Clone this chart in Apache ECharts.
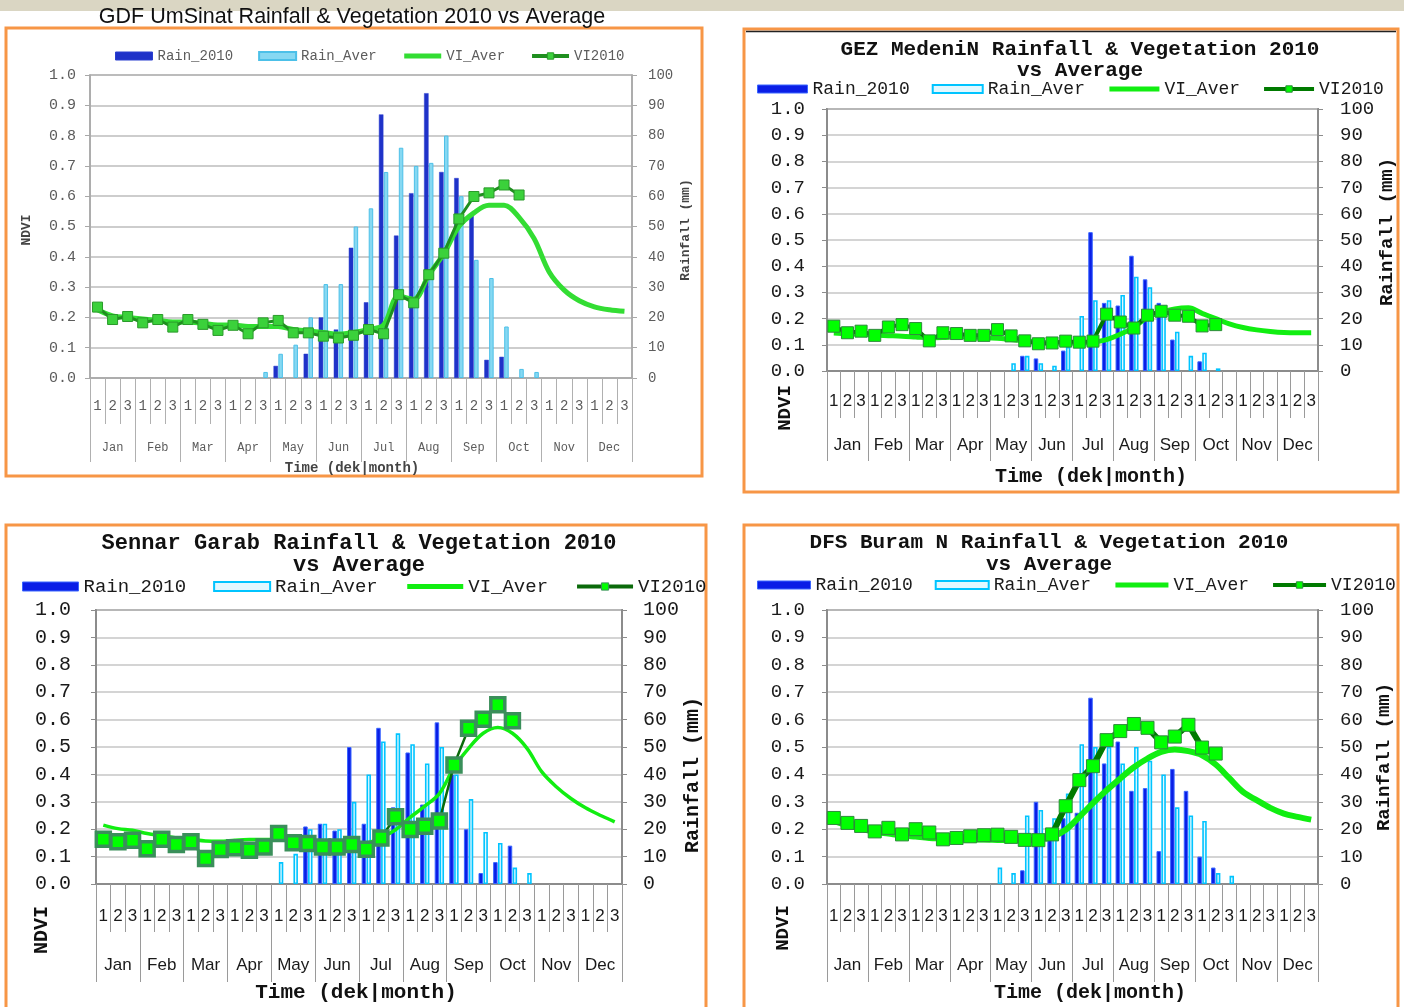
<!DOCTYPE html>
<html lang="en">
<head>
<meta charset="UTF-8">
<title>Rainfall &amp; Vegetation 2010 vs Average</title>
<style>
  html, body { margin: 0; padding: 0; background: #fff; }
  #chart { width: 1404px; height: 1007px; }
</style>
</head>
<body>
<div id="chart"></div>
<script src="https://cdn.jsdelivr.net/npm/echarts@6.0.0/dist/echarts.min.js"></script>
<script>
// time axis: 3 dekads per month
var months = ['Jan', 'Feb', 'Mar', 'Apr', 'May', 'Jun', 'Jul', 'Aug', 'Sep', 'Oct', 'Nov', 'Dec'];
var dekNames = ['1', '2', '3'];
var ndviTicks = [0, 0.1, 0.2, 0.3, 0.4, 0.5, 0.6, 0.7, 0.8, 0.9, 1.0];
var rainTicks = [0, 10, 20, 30, 40, 50, 60, 70, 80, 90, 100];

// GDF UmSinat
var gdfRain2010 = [null, null, null, null, null, null, null, null, null, null, null, null,
  4, null, 8, 20, 16, 43, 25, 87, 47, 61, 94, 68, 66, 54, 6, 7,
  null, null, null, null, null, null, null, null];
var gdfRainAver = [null, null, null, null, null, null, null, null, null, null, null,
  2, 8, 11, 20, 31, 31, 50, 56, 68, 76, 70, 71, 80, 60, 39, 33, 17, 3, 2,
  null, null, null, null, null, null];
var gdfViAver = [0.225, 0.205, 0.2, 0.195, 0.19, 0.185, 0.185, 0.18, 0.175, 0.175, 0.17, 0.17,
  0.17, 0.16, 0.155, 0.15, 0.145, 0.15, 0.16, 0.175, 0.27, 0.26, 0.34, 0.41,
  0.5, 0.545, 0.57, 0.57, 0.53, 0.46, 0.35, 0.29, 0.255, 0.235, 0.225, 0.22];
var gdfVi2010 = [0.234, 0.193, 0.203, 0.182, 0.193, 0.168, 0.193, 0.177, 0.157, 0.174, 0.146, 0.182,
  0.19, 0.149, 0.149, 0.138, 0.132, 0.141, 0.16, 0.146, 0.275, 0.248, 0.341, 0.412,
  0.525, 0.599, 0.611, 0.637, 0.604, null, null, null, null, null, null, null];

// GEZ MedeniN
var gezRain2010 = [null, null, null, null, null, null, null, null, null, null, null, null, null, null,
  5.8, 4.8, null, 7.8, null, 53, 26, 25, 44, 35, 26, 12, null, 3.7,
  null, null, null, null, null, null, null, null];
var gezRainAver = [null, null, null, null, null, null, null, null, null, null, null, null, null,
  3, 5.8, 3, 2, 9.2, 21, 27, 27, 29, 36, 32, 25, 15, 5.8, 7, 1,
  null, null, null, null, null, null, null];
var gezViAver = [0.145, 0.142, 0.14, 0.137, 0.135, 0.133, 0.13, 0.127, 0.128, 0.13, 0.13, 0.128,
  0.125, 0.12, 0.115, 0.11, 0.108, 0.107, 0.108, 0.11, 0.12, 0.14, 0.167, 0.205,
  0.224, 0.237, 0.241, 0.22, 0.2, 0.18, 0.166, 0.157, 0.151, 0.147, 0.146, 0.146];
var gezVi2010 = [0.171, 0.146, 0.152, 0.136, 0.168, 0.177, 0.162, 0.115, 0.146, 0.143, 0.136, 0.136,
  0.158, 0.134, 0.115, 0.104, 0.107, 0.114, 0.11, 0.114, 0.217, 0.187, 0.164, 0.213,
  0.228, 0.213, 0.209, 0.172, 0.177, null, null, null, null, null, null, null];

// Sennar Garab
var sennarRain2010 = [null, null, null, null, null, null, null, null, null, null, null, null, null, null,
  21, 22, 19.5, 50, 22, 57, 28, 48, 29, 59, 40, 20, 4, 8, 14,
  null, null, null, null, null, null, null];
var sennarRainAver = [null, null, null, null, null, null, null, null, null, null, null, null,
  8, 11, 20, 22, 20, 30, 40, 52, 55, 51, 44, 50, 40, 31, 19, 15, 6, 4,
  null, null, null, null, null, null];
var sennarViAver = [0.215, 0.202, 0.196, 0.184, 0.176, 0.168, 0.163, 0.157, 0.156, 0.16, 0.162, 0.162,
  0.162, 0.156, 0.151, 0.148, 0.148, 0.148, 0.15, 0.169, 0.198, 0.243, 0.284, 0.33,
  0.425, 0.495, 0.55, 0.571, 0.55, 0.495, 0.41, 0.355, 0.312, 0.278, 0.251, 0.227];
var sennarVi2010 = [0.163, 0.154, 0.16, 0.129, 0.163, 0.144, 0.154, 0.093, 0.126, 0.132, 0.123, 0.135,
  0.184, 0.151, 0.148, 0.135, 0.135, 0.144, 0.127, 0.168, 0.245, 0.199, 0.211, 0.23,
  0.434, 0.568, 0.601, 0.654, 0.596, null, null, null, null, null, null, null];

// DFS Buram N
var dfsRain2010 = [null, null, null, null, null, null, null, null, null, null, null, null, null, null,
  5, 30, 20, 24, 26, 68, 44, 52, 34, 35, 12, 42, 34, 10, 6,
  null, null, null, null, null, null, null];
var dfsRainAver = [null, null, null, null, null, null, null, null, null, null, null, null,
  6, 4, 25, 27, 24, 33, 51, 50, 50, 44, 50, 45, 40, 28, 25, 23, 4, 3,
  null, null, null, null, null, null];
var dfsViAver = [0.229, 0.214, 0.202, 0.19, 0.184, 0.178, 0.173, 0.168, 0.166, 0.163, 0.162, 0.162,
  0.161, 0.16, 0.16, 0.162, 0.172, 0.198, 0.245, 0.295, 0.342, 0.385, 0.426, 0.458,
  0.482, 0.491, 0.485, 0.47, 0.436, 0.386, 0.336, 0.306, 0.278, 0.257, 0.245, 0.235];
var dfsVi2010 = [0.241, 0.223, 0.212, 0.192, 0.205, 0.181, 0.2, 0.188, 0.163, 0.168, 0.174, 0.178,
  0.18, 0.172, 0.161, 0.16, 0.181, 0.284, 0.379, 0.43, 0.525, 0.558, 0.584, 0.57,
  0.517, 0.538, 0.581, 0.498, 0.476, null, null, null, null, null, null, null];

var panelTitles = [
  ['GDF UmSinat Rainfall & Vegetation 2010 vs Average'],
  ['GEZ MedeniN Rainfall & Vegetation 2010', 'vs Average'],
  ['Sennar Garab Rainfall & Vegetation 2010', 'vs Average'],
  ['DFS Buram N Rainfall & Vegetation 2010', 'vs Average']
];
var seriesNames = ['Rain_2010', 'Rain_Aver', 'VI_Aver', 'VI2010'];
var panelSeries = [
  [gdfRain2010, gdfRainAver, gdfViAver, gdfVi2010],
  [gezRain2010, gezRainAver, gezViAver, gezVi2010],
  [sennarRain2010, sennarRainAver, sennarViAver, sennarVi2010],
  [dfsRain2010, dfsRainAver, dfsViAver, dfsVi2010]
];

// category list for the dekad axis (unique keys, shown as 1/2/3)
var dekCats = [];
months.forEach(function (m) {
  dekNames.forEach(function (d) { dekCats.push(m + ' ' + d); });
});

// layout of each panel on the page
var layouts = [
  { grid: [90, 75, 542, 303], box: [6, 28, 696, 448],
    legend: { left: 115, top: 49, w: 37, h: 8, gap: 25, size: 14 },
    title: { x: 352, y: [17], size: 21.5, font: 'Liberation Sans', weight: 'normal', color: '#111' },
    yL: { size: 15, margin: 14 }, yR: { size: 14, margin: 16 },
    dek: { size: 14, margin: 21, tick: 46 }, mon: { size: 12, margin: 64, tick: 84 },
    ndvi: [27, 230], rainName: [686, 230], time: [352, 468], nameSize: 13 },
  { grid: [827, 109, 491, 262], box: [744, 29, 654, 463],
    legend: { left: 757, top: 80, w: 50, h: 8, gap: 22, size: 18 },
    title: { x: 1080, y: [50, 71], size: 21 },
    yL: { size: 19, margin: 22 }, yR: { size: 19, margin: 22 },
    dek: { size: 17, margin: 22, tick: 47 }, mon: { size: 17, margin: 66, tick: 90 },
    ndvi: [785, 408], rainName: [1387, 232], time: [1091, 477], nameSize: 19 },
  { grid: [96, 610, 526, 274], box: [6, 525, 700, 500],
    legend: { left: 22, top: 577, w: 56, h: 9, gap: 27, size: 19 },
    title: { x: 359, y: [543, 565], size: 22 },
    yL: { size: 20, margin: 25 }, yR: { size: 20, margin: 21 },
    dek: { size: 17, margin: 24, tick: 48 }, mon: { size: 17, margin: 73, tick: 98 },
    ndvi: [42, 930], rainName: [693, 775], time: [356, 993], nameSize: 20 },
  { grid: [827, 610, 491, 274], box: [744, 525, 654, 500],
    legend: { left: 757, top: 576, w: 53, h: 8, gap: 22, size: 18 },
    title: { x: 1049, y: [543, 565], size: 21 },
    yL: { size: 19, margin: 22 }, yR: { size: 19, margin: 22 },
    dek: { size: 17, margin: 24, tick: 48 }, mon: { size: 17, margin: 73, tick: 98 },
    ndvi: [783, 928], rainName: [1384, 757], time: [1090, 993], nameSize: 19 }
];

// the first panel is a fuzzy pasted picture, the other three share one look
var oldLook = {
  mono: 'Liberation Mono', sans: 'Liberation Mono', text: '#5c5c5c', frame: '#a8a8a8', frameW: 1.5,
  grid: '#bdbdbd', tick: '#b0b0b0',
  dark: '#1f32c8', darkEdge: '#2a3fd0', darkEdgeW: 0.5,
  light: '#86d8f2', lightEdge: '#4cc0e8', lightEdgeW: 1,
  viAver: '#33dd33', viAverW: 5, vi: '#1f8f1f', viW: 3,
  mark: '#3bd13b', markEdge: '#2a9a2a', markEdgeW: 1, markSize: 10, barW: 4.5
};
var newLook = {
  mono: 'Liberation Mono', sans: 'Liberation Sans', text: '#1a1a1a', frame: '#8c8c8c', frameW: 2,
  grid: '#c6c6c6', tick: '#9a9a9a',
  dark: '#0a1ee6', darkEdge: '#3a66ff', darkEdgeW: 1,
  light: '#e2f8ff', lightEdge: '#00c4ff', lightEdgeW: 1.6,
  viAver: '#11ee11', viAverW: 5, vi: '#007a00', viW: 4,
  mark: '#00ff00', markEdge: '#2d8a3a', markEdgeW: 1, markSize: 12, barW: 4.5
};
var looks = [
  oldLook,
  newLook,
  Object.assign({}, newLook, { viAverW: 3.5, viW: 2.5, vi: '#0a6a0a', markEdge: '#3a8f5a', markEdgeW: 3.5, markSize: 14 }),
  Object.assign({}, newLook, { viAverW: 6, viW: 6, markSize: 13 })
];

var myChart = echarts.init(document.getElementById('chart'), null, { renderer: 'canvas' });

var option = {
  animation: false,
  backgroundColor: '#ffffff',
  grid: [], xAxis: [], yAxis: [], series: [], legend: [],
  graphic: [
    { type: 'rect', shape: { x: 0, y: 0, width: 1404, height: 11 }, style: { fill: '#dad6c3' } }
  ]
};

function text(x, y, str, size, weight, family, color, rot) {
  return {
    type: 'text', x: x, y: y, rotation: rot || 0, z: 10,
    style: { text: str, fontSize: size, fontWeight: weight, fontFamily: family,
      fill: color, align: 'center', verticalAlign: 'middle' }
  };
}

layouts.forEach(function (L, p) {
  var S = looks[p];
  var data = panelSeries[p];

  option.grid.push({ left: L.grid[0], top: L.grid[1], width: L.grid[2], height: L.grid[3],
    show: true, borderColor: S.frame, borderWidth: S.frameW, backgroundColor: 'transparent' });

  // dekad axis 1 2 3 ...
  option.xAxis.push({
    type: 'category', gridIndex: p, position: 'bottom', data: dekCats, boundaryGap: true,
    axisLine: { show: true, lineStyle: { color: S.frame, width: S.frameW } },
    axisTick: { show: true, interval: 0, length: L.dek.tick, lineStyle: { color: S.tick, width: 1 } },
    axisLabel: { interval: 0, margin: L.dek.margin, fontFamily: S.sans, fontSize: L.dek.size, color: S.text,
      formatter: function (v) { return v.split(' ')[1]; } },
    splitLine: { show: false }
  });
  // month axis under it
  option.xAxis.push({
    type: 'category', gridIndex: p, position: 'bottom', data: months, boundaryGap: true,
    axisLine: { show: false },
    axisTick: { show: true, interval: 0, length: L.mon.tick, lineStyle: { color: S.tick, width: 1 } },
    axisLabel: { interval: 0, margin: L.mon.margin, fontFamily: S.sans, fontSize: L.mon.size, color: S.text },
    splitLine: { show: false }
  });

  option.yAxis.push({
    type: 'value', gridIndex: p, position: 'left',
    min: ndviTicks[0], max: ndviTicks[ndviTicks.length - 1], interval: ndviTicks[1] - ndviTicks[0],
    axisLine: { show: true, lineStyle: { color: S.frame, width: S.frameW } },
    axisTick: { show: true, length: 5, lineStyle: { color: S.frame } },
    axisLabel: { margin: L.yL.margin, fontFamily: S.mono, fontSize: L.yL.size, color: S.text,
      formatter: function (v) { return v.toFixed(1); } },
    splitLine: { show: true, lineStyle: { color: S.grid, width: 1.5 } }
  });
  option.yAxis.push({
    type: 'value', gridIndex: p, position: 'right',
    min: rainTicks[0], max: rainTicks[rainTicks.length - 1], interval: rainTicks[1] - rainTicks[0],
    axisLine: { show: true, lineStyle: { color: S.frame, width: S.frameW } },
    axisTick: { show: true, length: 5, lineStyle: { color: S.frame } },
    axisLabel: { margin: L.yR.margin, fontFamily: S.mono, fontSize: L.yR.size, color: S.text },
    splitLine: { show: false }
  });

  option.series.push({
    name: seriesNames[0], type: 'bar', xAxisIndex: 2 * p, yAxisIndex: 2 * p + 1,
    data: data[0], barWidth: S.barW, barGap: '8%', z: 2,
    itemStyle: { color: S.dark, borderColor: S.darkEdge, borderWidth: S.darkEdgeW }
  });
  option.series.push({
    name: seriesNames[1], type: 'bar', xAxisIndex: 2 * p, yAxisIndex: 2 * p + 1,
    data: data[1], barWidth: S.barW, barGap: '8%', z: 2,
    itemStyle: { color: S.light, borderColor: S.lightEdge, borderWidth: S.lightEdgeW }
  });
  option.series.push({
    name: seriesNames[2], type: 'line', xAxisIndex: 2 * p, yAxisIndex: 2 * p,
    data: data[2], symbol: 'none', smooth: 0.35, z: 3,
    lineStyle: { color: S.viAver, width: S.viAverW },
    itemStyle: { color: S.viAver }
  });
  option.series.push({
    name: seriesNames[3], type: 'line', xAxisIndex: 2 * p, yAxisIndex: 2 * p,
    data: data[3], symbol: 'rect', symbolSize: S.markSize, z: 4,
    lineStyle: { color: S.vi, width: S.viW },
    itemStyle: { color: S.mark, borderColor: S.markEdge, borderWidth: S.markEdgeW }
  });

  option.legend.push({
    left: L.legend.left, top: L.legend.top, orient: 'horizontal',
    itemWidth: L.legend.w, itemHeight: L.legend.h, itemGap: L.legend.gap, padding: 0,
    selectedMode: false,
    textStyle: { fontFamily: S.mono, fontSize: L.legend.size, color: S.text },
    data: [
      { name: 'Rain_2010', icon: 'rect', itemStyle: { color: S.dark, borderColor: S.darkEdge, borderWidth: 1 } },
      { name: 'Rain_Aver', icon: 'rect', itemStyle: { color: S.light, borderColor: S.lightEdge, borderWidth: 2 } },
      // line only: hide the default marker
      { name: 'VI_Aver', lineStyle: { color: S.viAver, width: 5 }, itemStyle: { opacity: 0 } },
      { name: 'VI2010', lineStyle: { color: S.vi, width: 4 },
        itemStyle: { color: S.mark, borderColor: S.markEdge, borderWidth: 1 } }
    ]
  });

  // panel frame
  option.graphic.push({ type: 'rect', z: 1,
    shape: { x: L.box[0], y: L.box[1], width: L.box[2], height: L.box[3] },
    style: { fill: 'none', stroke: '#f79646', lineWidth: 3 } });

  // titles
  var T = L.title;
  panelTitles[p].forEach(function (line, k) {
    option.graphic.push(text(T.x, T.y[k], line, T.size, T.weight || 'bold',
      T.font || 'Liberation Mono', T.color || '#111', 0));
  });

  // axis names
  option.graphic.push(text(L.ndvi[0], L.ndvi[1], 'NDVI', L.nameSize, 'bold', S.mono, p ? '#111' : '#444', Math.PI / 2));
  option.graphic.push(text(L.rainName[0], L.rainName[1], 'Rainfall (mm)', L.nameSize, 'bold', S.mono, p ? '#111' : '#444', Math.PI / 2));
  option.graphic.push(text(L.time[0], L.time[1], 'Time (dek|month)', L.nameSize + 1, 'bold', S.mono, p ? '#111' : '#444', 0));
});

// thin dark rule under the top edge of the second frame
option.graphic.push({ type: 'line', z: 1, shape: { x1: 746, y1: 31.5, x2: 1396, y2: 31.5 },
  style: { stroke: '#222', lineWidth: 1.5 } });

myChart.setOption(option);
</script>
</body>
</html>
